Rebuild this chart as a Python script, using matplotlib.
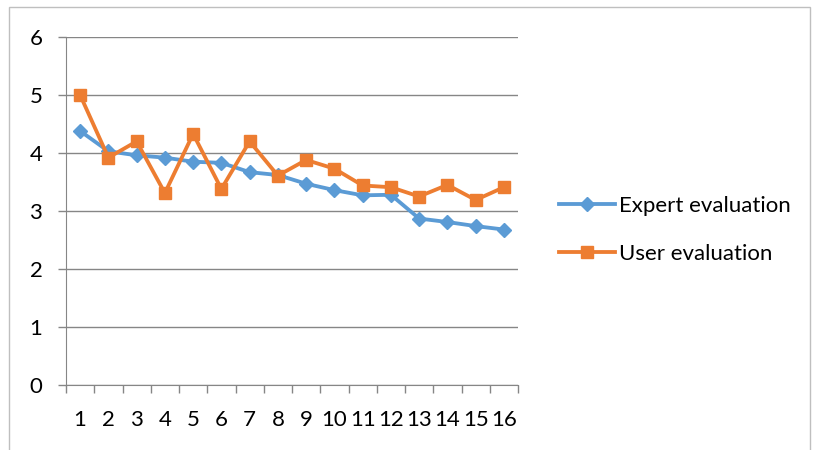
import matplotlib.pyplot as plt
from matplotlib.patches import Rectangle

categories = [str(i) for i in range(1, 17)]
expert = [4.38, 4.03, 3.96, 3.92, 3.85, 3.83, 3.67, 3.62, 3.47, 3.36, 3.27, 3.28, 2.87, 2.81, 2.74, 2.68]
user = [5.0, 3.92, 4.2, 3.31, 4.33, 3.38, 4.2, 3.61, 3.88, 3.73, 3.44, 3.41, 3.25, 3.45, 3.19, 3.41]

plt.rcParams['font.family'] = ['Lato', 'DejaVu Sans']

fig = plt.figure(figsize=(8.19, 4.5), dpi=100)
ax = fig.add_axes([66/819, 1-385/450, (518-66)/819, (385-37)/450])

x = list(range(1, len(categories) + 1))
ax.plot(x, expert, color='#5B9BD5', lw=2.75, marker='D', ms=7, label='Expert evaluation')
ax.plot(x, user, color='#ED7D31', lw=2.75, marker='s', ms=9, label='User evaluation')

ax.set_xlim(0.5, 16.5)
ax.set_ylim(0, 6)
ax.set_yticks(range(0, 7))
ax.grid(axis='y', color='#868686', lw=1)
ax.set_axisbelow(True)

# ticks at category boundaries, labels at centers
ax.set_xticks([i + 0.5 for i in range(0, 17)])
ax.set_xticklabels([])
ax.set_xticks(x, minor=True)
ax.set_xticklabels(categories, minor=True)
ax.tick_params(axis='x', which='major', length=6, color='#868686', width=1)
ax.tick_params(axis='x', which='minor', length=0, pad=18, labelsize=16)
ax.tick_params(axis='y', length=6, color='#868686', width=1, labelsize=16, pad=11)

for s in ['top', 'right']:
    ax.spines[s].set_visible(False)
for s in ['left', 'bottom']:
    ax.spines[s].set_color('#868686')

fig.legend(loc='center left', bbox_to_anchor=(539/819, 1-230/450), frameon=False,
           fontsize=16, handlelength=2.5, labelspacing=1.25, handletextpad=0.2)

fig.patches.append(Rectangle((9/819, -0.1), 801/819, 1.1 - 7/450, transform=fig.transFigure,
                             fill=False, edgecolor='#BFBFBF', lw=1))

fig.savefig('out.png', dpi=100)
